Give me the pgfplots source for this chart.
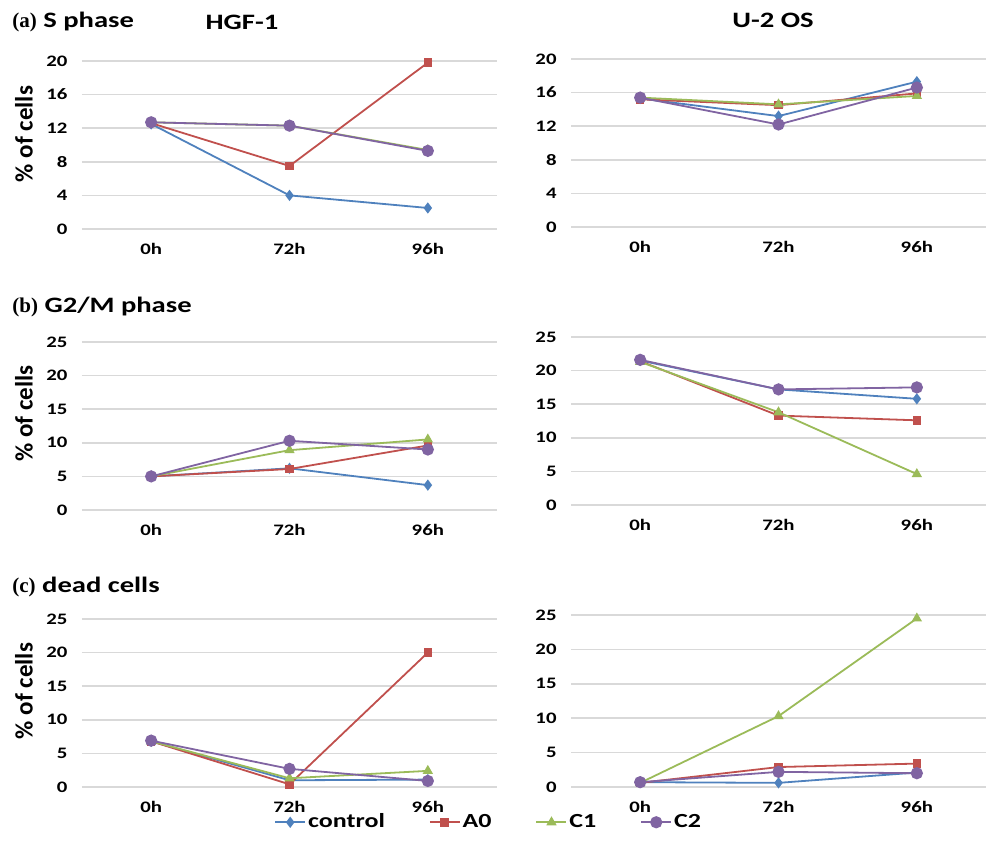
\documentclass[border=0pt]{standalone}
\usepackage{fontspec}
\setmainfont{Carlito}[FakeStretch=1.3]
\newfontfamily\narrowfont{Carlito}
\newfontfamily\timesfont{Liberation Serif}
\usepackage{pgfplots}
\pgfplotsset{compat=1.18}
\definecolor{cblue}{HTML}{4F81BD}
\definecolor{cred}{HTML}{C0504D}
\definecolor{cgreen}{HTML}{9BBB59}
\definecolor{cpurple}{HTML}{8064A2}
\definecolor{gridgray}{HTML}{D9D9D9}
\pgfplotsset{
  panel/.style={scale only axis, width=207.5pt, height=84pt,
    xmin=-0.5, xmax=2.5, xtick={0,1,2}, xticklabels={0h,72h,96h}, ymin=0,
    ymajorgrids, grid style={color=gridgray, line width=0.8pt},
    axis line style={draw=none}, major tick length=0pt,
    tick label style={font=\bfseries\fontsize{8}{9}\selectfont},
    /pgf/number format/assume math mode=true,
    xticklabel style={yshift=-3.7pt}, yticklabel style={xshift=-3.7pt},
    clip=false,
    ylabel style={font=\narrowfont\bfseries\fontsize{12.5}{14}\selectfont, anchor=center, rotate=0},
    legend image code/.code={\draw[mark repeat=2,mark phase=2,#1] plot coordinates {(0pt,0pt) (7.5pt,0pt) (15pt,0pt)};},
  },
  sctrl/.style={color=cblue, line width=0.9pt, mark=diamond*, mark size=2.1pt},
  sa0/.style={color=cred, line width=0.9pt, mark=square*, mark size=1.7pt},
  sc1/.style={color=cgreen, line width=0.9pt, mark=triangle*, mark size=2.1pt},
  sc2/.style={color=cpurple, line width=0.9pt, mark=*, mark size=2.6pt},
}
\begin{document}
\begin{tikzpicture}
\useasboundingbox (0,0) rectangle (495pt,430pt);
% titles
\node[font=\bfseries\fontsize{11}{13}\selectfont] at (121pt,419pt) {HGF-1};
\node[font=\bfseries\fontsize{11}{13}\selectfont] at (386.5pt,420pt) {U-2 OS};
\node[anchor=west, font=\bfseries\fontsize{11}{13}\selectfont, inner sep=0pt] at (6pt,419pt) {{\timesfont\fontsize{10.5}{12}\selectfont(a)} S phase};
\node[anchor=west, font=\bfseries\fontsize{11}{13}\selectfont, inner sep=0pt] at (6pt,276.5pt) {{\timesfont\fontsize{10.5}{12}\selectfont(b)} G2/M phase};
\node[anchor=west, font=\bfseries\fontsize{11}{13}\selectfont, inner sep=0pt] at (6pt,136.5pt) {{\timesfont\fontsize{10.5}{12}\selectfont(c)} dead cells};

% (a) HGF-1
\begin{axis}[panel, at={(41pt,315.5pt)}, anchor=south west, ymax=20, ytick={0,4,...,20},
  ylabel={\% of cells}, ylabel style={at={(axis description cs:-0.14,0.565)}}]
\addplot[sctrl] coordinates {(0,12.5) (1,4.0) (2,2.5)};
\addplot[sa0] coordinates {(0,12.6) (1,7.5) (2,19.8)};
\addplot[sc1] coordinates {(0,12.7) (1,12.3) (2,9.4)};
\addplot[sc2] coordinates {(0,12.7) (1,12.3) (2,9.3)};
\end{axis}
% (a) U-2 OS
\begin{axis}[panel, at={(285.5pt,316.5pt)}, anchor=south west, ymax=20, ytick={0,4,...,20}]
\addplot[sctrl] coordinates {(0,15.3) (1,13.2) (2,17.3)};
\addplot[sa0] coordinates {(0,15.2) (1,14.5) (2,15.9)};
\addplot[sc1] coordinates {(0,15.4) (1,14.6) (2,15.6)};
\addplot[sc2] coordinates {(0,15.4) (1,12.2) (2,16.6)};
\end{axis}

% (b) HGF-1
\begin{axis}[panel, at={(41pt,175pt)}, anchor=south west, ymax=25, ytick={0,5,...,25},
  ylabel={\% of cells}, ylabel style={at={(axis description cs:-0.14,0.574)}}]
\addplot[sctrl] coordinates {(0,5.0) (1,6.2) (2,3.7)};
\addplot[sa0] coordinates {(0,5.0) (1,6.1) (2,9.6)};
\addplot[sc1] coordinates {(0,5.0) (1,8.9) (2,10.5)};
\addplot[sc2] coordinates {(0,5.0) (1,10.3) (2,9.0)};
\end{axis}
% (b) U-2 OS
\begin{axis}[panel, at={(285.5pt,177.5pt)}, anchor=south west, ymax=25, ytick={0,5,...,25}]
\addplot[sctrl] coordinates {(0,21.5) (1,17.2) (2,15.8)};
\addplot[sa0] coordinates {(0,21.4) (1,13.3) (2,12.6)};
\addplot[sc1] coordinates {(0,21.3) (1,13.8) (2,4.6)};
\addplot[sc2] coordinates {(0,21.6) (1,17.2) (2,17.5)};
\end{axis}

% (c) HGF-1
\begin{axis}[panel, at={(41pt,36.5pt)}, anchor=south west, ymax=25, ytick={0,5,...,25},
  ylabel={\% of cells}, ylabel style={at={(axis description cs:-0.14,0.571)}},
  legend columns=4,
  legend style={draw=none, fill=none, at={(axis description cs:0.98,-0.21)}, anchor=center,
    font=\bfseries\fontsize{10}{12}\selectfont,
    /tikz/every even column/.append style={column sep=21pt},
    nodes={inner xsep=1pt}}]
\addplot[sctrl] coordinates {(0,6.8) (1,1.0) (2,1.1)};
\addplot[sa0] coordinates {(0,6.8) (1,0.4) (2,20.0)};
\addplot[sc1] coordinates {(0,6.8) (1,1.3) (2,2.4)};
\addplot[sc2] coordinates {(0,6.9) (1,2.7) (2,0.9)};
\legend{control,A0,C1,C2}
\end{axis}
% (c) U-2 OS
\begin{axis}[panel, at={(285.5pt,36.5pt)}, anchor=south west, height=86pt, ymax=25, ytick={0,5,...,25}]
\addplot[sctrl] coordinates {(0,0.7) (1,0.6) (2,2.1)};
\addplot[sa0] coordinates {(0,0.6) (1,2.9) (2,3.4)};
\addplot[sc1] coordinates {(0,0.6) (1,10.3) (2,24.5)};
\addplot[sc2] coordinates {(0,0.7) (1,2.2) (2,2.0)};
\end{axis}
\end{tikzpicture}
\end{document}
